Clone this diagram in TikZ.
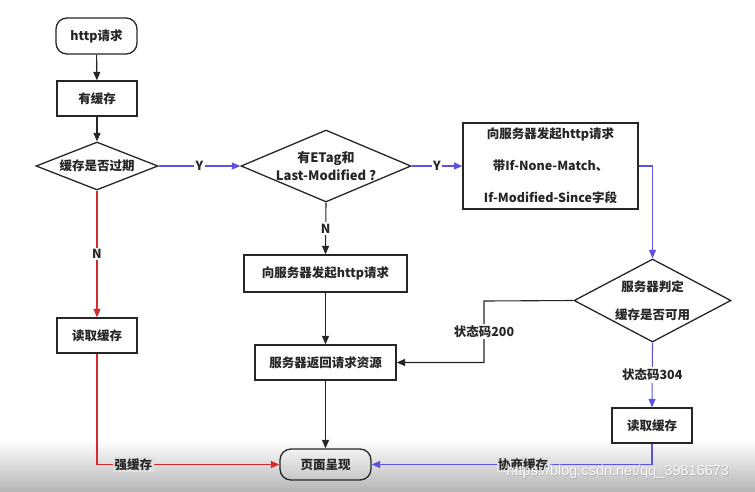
\documentclass[tikz,border=0pt]{standalone}
\usepackage{fontspec}
\setmainfont{Noto Sans CJK SC}
\newfontfamily\wmfont{Liberation Sans}
\usetikzlibrary{shapes.geometric,arrows.meta}
\definecolor{cblue}{RGB}{92,82,228}
\definecolor{cred}{RGB}{214,42,46}
\definecolor{cline}{RGB}{38,38,38}
\definecolor{lblgray}{RGB}{224,224,224}
\definecolor{shadebot}{RGB}{182,182,182}
\begin{document}
\begin{tikzpicture}[x=1pt,y=-1pt,
  font=\fontsize{12.5}{15}\selectfont\bfseries,
  box/.style={draw=cline,line width=1.3pt,rectangle,inner sep=0pt,align=center,text=cline},
  rbox/.style={box,rounded corners=11pt},
  dia/.style={draw=cline,line width=1.3pt,diamond,inner sep=0pt},
  dtext/.style={inner sep=0pt,align=center,text=cline},
  arr/.style={line width=1.1pt,-{Triangle[length=8.5pt,width=7pt]}},
  lbl/.style={fill=white,inner sep=1.5pt,text=cline},
  lblg/.style={fill=lblgray,inner sep=1.5pt,text=cline}]
\fill[white] (0,0) rectangle (755,491);
\shade[top color=white,bottom color=shadebot] (0,440) rectangle (755,491);
% nodes
\node[rbox,minimum width=81pt,minimum height=36pt] (start) at (96.5,36) {http请求};
\node[box,minimum width=80pt,minimum height=35pt] (has) at (97,98.5) {有缓存};
\node[dia,minimum width=122pt,minimum height=48pt] (exp) at (97,166) {};
\node[dtext] (expt) at (exp.center) {缓存是否过期};
\node[dia,minimum width=170pt,minimum height=72pt] (eti) at (326,166) {};
\node[dtext,font=\fontsize{13}{18}\selectfont\bfseries] (etit) at (eti.center) {有ETag和\\Last-Modified ?};
\node[box,minimum width=175pt,minimum height=86pt,font=\fontsize{12.5}{32}\selectfont\bfseries] (rq) at (550.5,166) {向服务器发起http请求\\带If-None-Match、\\If-Modified-Since字段};
\node[dia,minimum width=157pt,minimum height=83pt] (jud) at (652.5,300.5) {};
\node[dtext,font=\fontsize{12.5}{28}\selectfont\bfseries] (judt) at (jud.center) {服务器判定\\缓存是否可用};
\node[box,minimum width=163pt,minimum height=37pt] (req) at (325.5,273.5) {向服务器发起http请求};
\node[box,minimum width=141pt,minimum height=35pt] (srv) at (325.5,362.5) {服务器返回请求资源};
\node[rbox,minimum width=91pt,minimum height=31pt] (page) at (325.5,464.5) {页面呈现};
\node[box,minimum width=80pt,minimum height=35pt] (lc) at (97,335.5) {读取缓存};
\node[box,minimum width=80pt,minimum height=35pt] (rc) at (652,425.5) {读取缓存};
\coordinate (c200) at (484,301);
% connectors
\draw[arr,cline] (start) -- (has);
\draw[arr,cline] (has) -- (exp);
\draw[arr,cblue] (exp.east) -- node[lbl]{Y} (eti.west);
\draw[arr,cblue] (eti.east) -- node[lbl]{Y} (rq.west);
\draw[arr,cblue] (rq.east) -| (jud.north);
\draw[arr,cline] (eti.south) -- node[lbl]{N} (req.north);
\draw[arr,cline] (req) -- (srv);
\draw[arr,cline] (srv) -- (page);
\draw[arr,cline] (jud.west) -- (c200) |- node[lbl,pos=0.25]{状态码200} (srv.east);
\draw[arr,cblue] (jud.south) -- node[lbl]{状态码304} (rc.north);
\draw[arr,cblue] (rc.south) |- node[lblg,pos=0.73]{协商缓存} (page.east);
\draw[arr,cred] (exp.south) -- node[lbl]{N} (lc.north);
\draw[arr,cred] (lc.south) |- node[lblg,pos=0.6]{强缓存} (page.west);
% watermark
\node[font=\wmfont\fontsize{14.5}{16}\selectfont,text=gray!60,anchor=west] (wms) at (503.6,472.6) {https://blog.csdn.net/qq\_39816673};
\node[font=\wmfont\fontsize{14.5}{16}\selectfont,text=white!94!gray,anchor=west] (wm) at (503,472) {https://blog.csdn.net/qq\_39816673};
\end{tikzpicture}
\end{document}
